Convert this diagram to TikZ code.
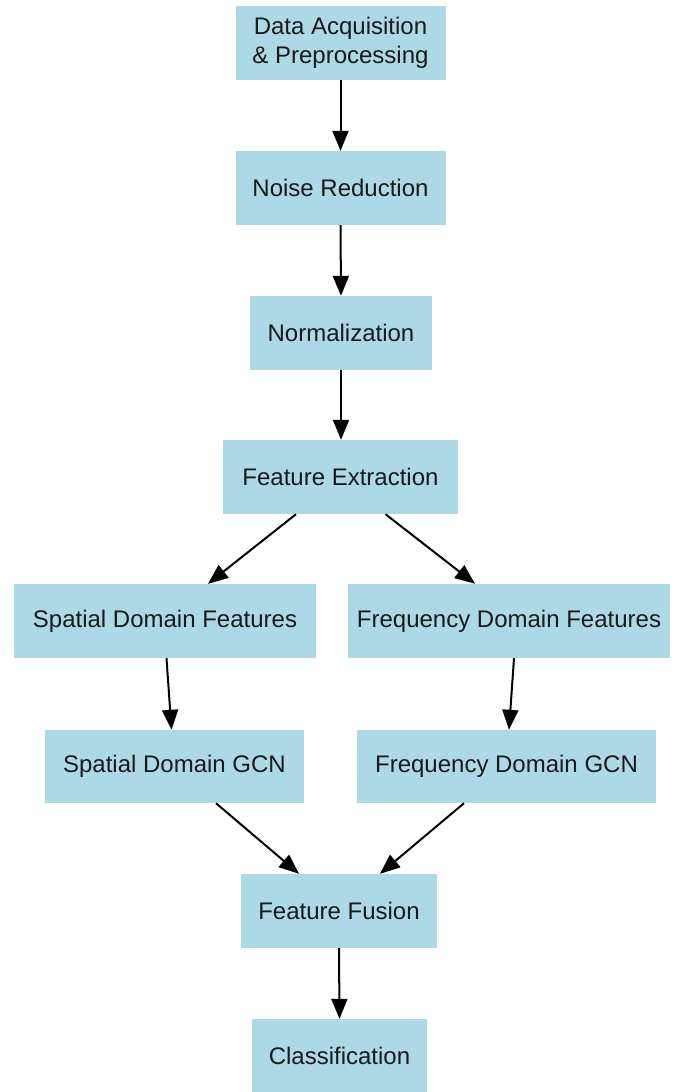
\documentclass[tikz,border=0pt]{standalone}
\usepackage{fontspec}
\setmainfont{Liberation Sans}
\usetikzlibrary{arrows.meta}
\definecolor{boxblue}{HTML}{ADD8E6}
\definecolor{txt}{HTML}{1A1A1A}
\tikzset{
  box/.style={rectangle, fill=boxblue, draw=none, inner sep=0pt, align=center,
    text=txt, font=\fontsize{24}{29}\selectfont},
  conn/.style={line width=2pt, draw=black, -{Triangle[length=20pt,width=16pt]}}
}
\begin{document}
\begin{tikzpicture}[x=1pt,y=-1pt]
\useasboundingbox (0,0) rectangle (677,1092);
\node[box, minimum width=210pt, minimum height=74pt] (daq) at (340.5,43) {Data Acquisition\\\& Preprocessing};
\node[box, minimum width=210pt, minimum height=74pt] (nr) at (340.5,188) {Noise Reduction};
\node[box, minimum width=182pt, minimum height=74pt] (norm) at (341,333) {Normalization};
\node[box, minimum width=235pt, minimum height=74pt] (fe) at (340.5,477) {Feature Extraction};
\node[box, minimum width=302pt, minimum height=74pt] (sdf) at (165,621) {Spatial Domain Features};
\node[box, minimum width=322pt, minimum height=74pt] (fdf) at (509,621) {Frequency Domain Features};
\node[box, minimum width=259pt, minimum height=73pt] (sgcn) at (174.5,766.5) {Spatial Domain GCN};
\node[box, minimum width=299pt, minimum height=73pt] (fgcn) at (506.5,766.5) {Frequency Domain GCN};
\node[box, minimum width=196pt, minimum height=74pt] (ff) at (339,911) {Feature Fusion};
\node[box, minimum width=175pt, minimum height=73pt] (cls) at (339.5,1055.5) {Classification};

\draw[conn] (daq.south) -- (nr.north);
\draw[conn] (nr.south) -- ([xshift=0.5pt]nr.south |- norm.north);
\draw[conn] (norm.south) -- (norm.south |- fe.north);
\draw[conn] ([xshift=-44.5pt]fe.south) -- ([xshift=43pt]sdf.north);
\draw[conn] ([xshift=45pt]fe.south) -- ([xshift=-34pt]fdf.north);
\draw[conn] ([xshift=1.5pt]sdf.south) -- ([xshift=-3pt]sgcn.north);
\draw[conn] ([xshift=5pt]fdf.south) -- ([xshift=2.5pt]fgcn.north);
\draw[conn] ([xshift=41.5pt]sgcn.south) -- ([xshift=-40pt]ff.north);
\draw[conn] ([xshift=-42.5pt]fgcn.south) -- ([xshift=41pt]ff.north);
\draw[conn] (ff.south) -- (cls.north);
\end{tikzpicture}
\end{document}
